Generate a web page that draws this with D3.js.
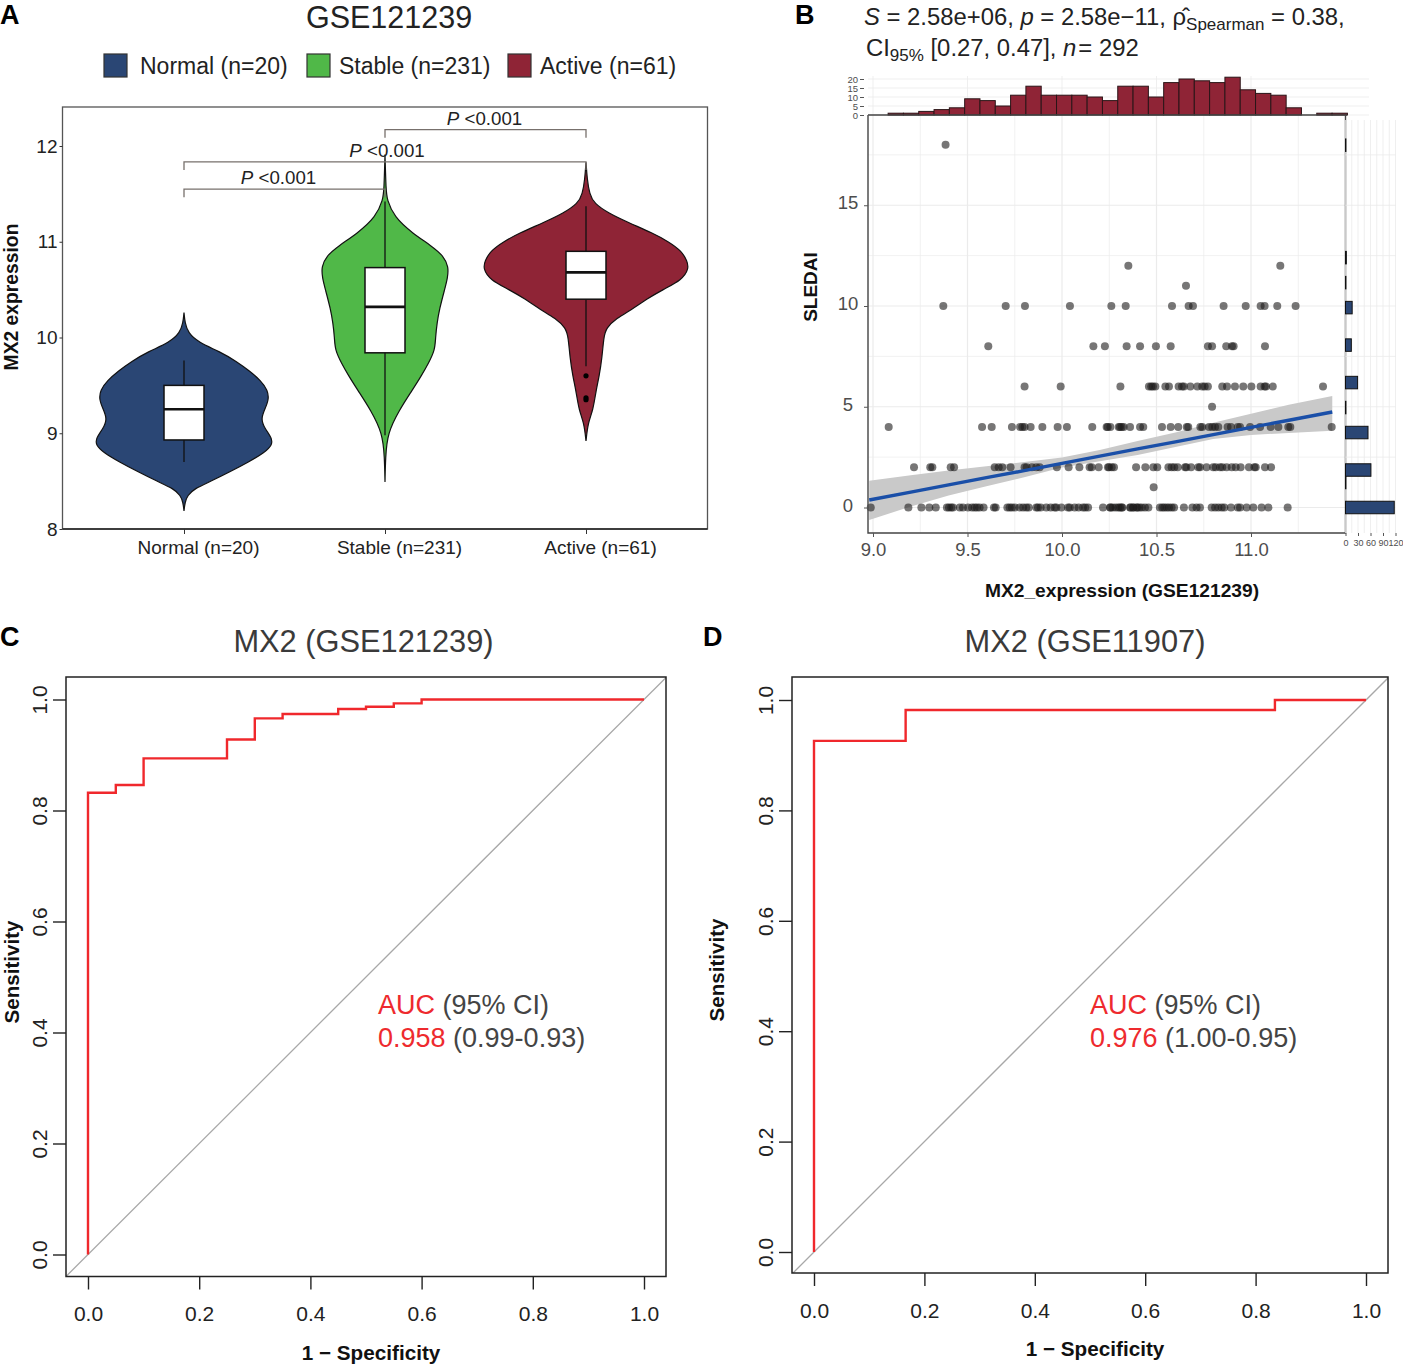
<!DOCTYPE html>
<html>
<head>
<meta charset="utf-8">
<title>MX2 expression</title>
<style>
body { margin: 0; background: #fff; }
svg { display: block; }
text { font-family: "Liberation Sans", Arial, sans-serif; }
.domain { display: none; }
</style>
</head>
<body>
<svg id="fig" width="1403" height="1365"></svg>
<script src="https://cdnjs.cloudflare.com/ajax/libs/d3/7.8.5/d3.min.js"></script>
<script>
// panel A
var groups = ["Normal", "Stable", "Active"];
var groupLabels = ["Normal (n=20)", "Stable (n=231)", "Active (n=61)"];
var groupColors = ["#2a4674", "#50b848", "#8f2436"];

var normalValues = [10.26,10.15,10.05,9.95,9.85,9.75,9.65,9.55,9.45,9.35,9.25,9.15,9.05,8.95,8.88,8.8,8.7,8.6,8.5,8.42,8.35,8.28,8.19];
var normalDensity = [0,.01,.04,.14,.36,.52,.65,.76,.83,.84,.8,.76,.8,.87,.875,.8,.64,.46,.27,.1,.035,.01,0];
var stableValues = [11.91,11.54,11.44,11.26,11.09,10.95,10.85,10.74,10.62,10.5,10.3,10.15,10,9.87,9.73,9.6,9.45,9.24,9,8.75,8.49];
var stableDensity = [0,.01,.02,.09,.27,.47,.58,.63,.62,.59,.54,.515,.5,.495,.43,.36,.27,.14,.025,.005,0];
var activeValues = [11.83,11.65,11.5,11.4,11.3,11.2,11.09,11,10.9,10.8,10.72,10.6,10.5,10.4,10.29,10.2,10.1,10,9.8,9.59,9.45,9.24,9.11,8.92];
var activeDensity = [0,.012,.035,.08,.22,.42,.66,.82,.95,1,1.02,.95,.76,.6,.45,.3,.2,.175,.16,.13,.1,.07,.02,0];

var boxQ1 = [8.93, 9.84, 10.4];
var boxMedian = [9.25, 10.32, 10.68];
var boxQ3 = [9.5, 10.73, 10.9];
var whiskerLow = [8.7, 8.98, 9.7];
var whiskerHigh = [9.76, 11.42, 11.37];
var activeOutliers = [9.6, 9.37, 9.35];

var bracketFrom = ["Stable", "Normal", "Normal"];
var bracketTo = ["Active", "Active", "Stable"];
var bracketLevel = [12.17, 11.835, 11.55];

// panel B
var sledaiRows = [18, 12, 11, 10, 8, 6, 5, 4, 2, 1, 0];
var mx2Row18 = [9.384];
var mx2Row12 = [10.351, 11.155];
var mx2Row11 = [10.656];
var mx2Row10 = [9.372,9.702,9.804,10.042,10.261,10.337,10.582,10.67,10.693,10.855,10.972,11.051,11.072,11.139,11.236];
var mx2Row8 = [9.61,10.166,10.227,10.342,10.413,10.497,10.575,10.772,10.794,10.869,10.899,10.908,11.074];
var mx2Row6 = [9.802,9.993,10.309,10.46,10.472,10.481,10.494,10.547,10.566,10.617,10.635,10.645,10.679,10.716,10.742,10.755,10.772,10.848,10.873,10.915,10.959,11.002,11.051,11.072,11.079,11.115,11.381];
var mx2Row5 = [10.794];
var mx2Row4 = [9.083,9.577,9.628,9.735,9.778,9.79,9.802,9.834,9.896,9.977,10.026,10.16,10.236,10.242,10.256,10.3,10.307,10.316,10.326,10.36,10.413,10.43,10.529,10.575,10.615,10.66,10.668,10.732,10.742,10.778,10.795,10.81,10.827,10.876,10.894,10.93,10.942,10.995,11.048,11.104,11.145,11.197,11.208,11.427];
var mx2Row2 = [9.217,9.303,9.314,9.411,9.429,9.644,9.665,9.684,9.728,9.802,9.813,9.841,9.864,9.882,9.973,10.035,10.092,10.146,10.157,10.194,10.243,10.249,10.263,10.275,10.392,10.441,10.483,10.504,10.563,10.58,10.594,10.612,10.651,10.658,10.683,10.721,10.73,10.765,10.8,10.813,10.836,10.848,10.871,10.898,10.919,10.945,10.989,11.018,11.025,11.074,11.106];
var mx2Row1 = [10.485];
var mx2Row0 = [8.988,9.187,9.256,9.298,9.332,9.391,9.402,9.414,9.423,9.459,9.476,9.503,9.524,9.538,9.55,9.564,9.585,9.64,9.649,9.711,9.723,9.735,9.75,9.776,9.794,9.811,9.824,9.864,9.873,9.887,9.917,9.94,9.961,9.97,9.997,10.032,10.041,10.067,10.088,10.111,10.123,10.138,10.217,10.257,10.268,10.284,10.319,10.363,10.377,10.398,10.409,10.254,10.298,10.307,10.316,10.36,10.377,10.395,10.422,10.439,10.457,10.518,10.531,10.541,10.554,10.566,10.58,10.593,10.645,10.69,10.712,10.73,10.792,10.81,10.827,10.845,10.859,10.894,10.93,10.942,10.977,11.012,11.056,11.092,11.194];
var rowValues = [mx2Row18, mx2Row12, mx2Row11, mx2Row10, mx2Row8, mx2Row6, mx2Row5, mx2Row4, mx2Row2, mx2Row1, mx2Row0];

var fitX = [8.98,9.2,9.4,9.6,9.8,10,10.2,10.4,10.6,10.8,11,11.2,11.43];
var fitY = [.37,.76,1.12,1.48,1.83,2.19,2.55,2.91,3.26,3.62,3.98,4.33,4.74];
var fitUpper = [1.33,1.6,1.84,2.05,2.26,2.48,2.85,3.3,3.72,4.2,4.65,5.1,5.53];
var fitLower = [-.62,.05,.6,1.05,1.5,1.98,2.3,2.6,3.0,3.4,3.6,3.7,3.81];

var topHistCounts = [1,1,2,3,4,9,8,5,11,16,11,11,11,10,8,16,16,10,18,20,19,18,21,14,12,11,4,0,1,1];
var sideHistBins = [0,1.24,1.86,3.72,4.96,6.2,8.06,9.92,11.16,12.4,17.98];
var sideHistCounts = [117,1,61,54,1,29,14,16,1,2,1];

// panels C and D
var rocFprC = [0,0,.05,.1,.25,.3,.35,.45,.5,.55,.6,1];
var rocTprC = [0,.832,.846,.894,.928,.966,.974,.983,.987,.993,1,1];
var rocFprD = [0,0,.166,.835,1];
var rocTprD = [0,.926,.982,1,1];
var rocTicks = [0,.2,.4,.6,.8,1];

var svg = d3.select("#fig");
var sans = "Liberation Sans";

function label(parent, x, y, str, size, opts) {
  opts = opts || {};
  var t = parent.append("text")
    .attr("transform", "translate(" + x + "," + y + ")" + (opts.rotate ? " rotate(" + opts.rotate + ")" : ""))
    .attr("font-size", size)
    .attr("font-weight", opts.bold ? "bold" : "normal")
    .attr("text-anchor", opts.anchor || "start")
    .attr("fill", opts.fill || "#222")
    .text(str);
  return t;
}

// panel letters
label(svg, 0, 24, "A", 27, {bold: true, fill: "#000"});
label(svg, 795, 24, "B", 27, {bold: true, fill: "#000"});
label(svg, 0, 646, "C", 27, {bold: true, fill: "#000"});
label(svg, 703, 646, "D", 27, {bold: true, fill: "#000"});

/* ---------- A: violins ---------- */
var a = svg.append("g");
var ay = d3.scaleLinear().domain([8, 12]).range([529, 146]);
var ax = d3.scalePoint().domain(groups).range([184, 586]);
var aw = d3.scaleLinear().domain([0, 1]).range([0, 101]);

label(a, 389, 28, "GSE121239", 30.5, {anchor: "middle", fill: "#222"});

var legendX = d3.scaleOrdinal().domain(groups).range([104, 307, 508]);
groups.forEach(function(g, i) {
  a.append("rect").attr("x", legendX(g)).attr("y", 54).attr("width", 23).attr("height", 23)
    .attr("fill", groupColors[i]).attr("stroke", "#333").attr("stroke-width", 1.2);
  label(a, legendX(g) + (i == 0 ? 36 : 32), 74, groupLabels[i], 23, {fill: "#222"});
});

a.append("rect").attr("x", 62.5).attr("y", 107).attr("width", 645).attr("height", 422)
  .attr("fill", "none").attr("stroke", "#555").attr("stroke-width", 1.3);
a.append("line").attr("x1", 62.5).attr("x2", 707.5).attr("y1", 529).attr("y2", 529)
  .attr("stroke", "#222").attr("stroke-width", 1.6);

var ayAxis = a.append("g").attr("transform", "translate(62.5,0)")
  .call(d3.axisLeft(ay).tickValues([8, 9, 10, 11, 12]).tickSize(3).tickPadding(2).tickFormat(d3.format("d")));
ayAxis.selectAll("text").attr("font-size", 19).attr("font-family", sans).attr("fill", "#222");
ayAxis.selectAll("line").attr("stroke", "#333");

var axAxis = a.append("g").attr("transform", "translate(0,529)")
  .call(d3.axisBottom(ax).tickSize(5).tickPadding(7).tickFormat(function(d, i) { return groupLabels[i]; }));
axAxis.selectAll("text").attr("font-size", 19).attr("font-family", sans).attr("fill", "#222").attr("dx", 14);
axAxis.selectAll("line").attr("stroke", "#333");

label(a, 18, 297, "MX2 expression", 19.3, {bold: true, rotate: -90, anchor: "middle", fill: "#111"});

var violinData = [
  {values: normalValues, density: normalDensity},
  {values: stableValues, density: stableDensity},
  {values: activeValues, density: activeDensity}
];
violinData.forEach(function(v, i) {
  var c = ax(groups[i]);
  var area = d3.area()
    .y(function(d, k) { return ay(d); })
    .x0(function(d, k) { return c - aw(v.density[k]); })
    .x1(function(d, k) { return c + aw(v.density[k]); })
    .curve(d3.curveBasis);
  a.append("path").attr("d", area(v.values))
    .attr("fill", groupColors[i]).attr("stroke", "#111").attr("stroke-width", 1.2);
  a.append("line").attr("x1", c).attr("x2", c).attr("y1", ay(whiskerLow[i])).attr("y2", ay(whiskerHigh[i]))
    .attr("stroke", "#111").attr("stroke-width", 1.3);
  a.append("rect").attr("x", c - 20).attr("width", 40)
    .attr("y", ay(boxQ3[i])).attr("height", ay(boxQ1[i]) - ay(boxQ3[i]))
    .attr("fill", "#fff").attr("stroke", "#111").attr("stroke-width", 1.5);
  a.append("line").attr("x1", c - 20).attr("x2", c + 20).attr("y1", ay(boxMedian[i])).attr("y2", ay(boxMedian[i]))
    .attr("stroke", "#111").attr("stroke-width", 2.6);
});
a.selectAll("circle.out").data(activeOutliers).enter().append("circle")
  .attr("cx", ax("Active")).attr("cy", function(d) { return ay(d); }).attr("r", 2.6).attr("fill", "#000");

bracketLevel.forEach(function(lv, i) {
  var x1 = ax(bracketFrom[i]), x2 = ax(bracketTo[i]), y0 = ay(lv), yt = ay(lv - .085);
  a.append("path").attr("d", "M" + x1 + "," + yt + "V" + y0 + "H" + x2 + "V" + yt)
    .attr("fill", "none").attr("stroke", "#77706c").attr("stroke-width", 1.3);
  var t = label(a, (x1 + x2) / 2 + (i == 1 ? 2 : (i == 0 ? -1 : -6)), y0 - 5, "", 18.7, {anchor: "middle", fill: "#222"});
  t.append("tspan").attr("font-style", "italic").text("P");
  t.append("tspan").text(" <0.001");
});

/* ---------- B: scatter with marginal histograms ---------- */
var b = svg.append("g");
var bx = d3.scaleLinear().domain([9, 11]).range([873, 1251]);
var by = d3.scaleLinear().domain([0, 18]).range([507.5, 144.8]);
var frameL = 868, frameR = 1345.5, frameT = 115, frameB = 533;

// subtitle
var st1 = label(b, 864, 25, "", 23.85, {fill: "#222"});
st1.append("tspan").attr("font-style", "italic").text("S");
st1.append("tspan").text(" = 2.58e+06, ");
st1.append("tspan").attr("font-style", "italic").text("p");
st1.append("tspan").text(" = 2.58e\u221211, \u03c1\u0302");
st1.append("tspan").attr("font-size", 17).attr("dy", 5).text("Spearman");
st1.append("tspan").attr("dy", -5).text(" = 0.38,");
var st2 = label(b, 866, 56, "", 23.85, {fill: "#222"});
st2.append("tspan").text("CI");
st2.append("tspan").attr("font-size", 17).attr("dy", 5).text("95%");
st2.append("tspan").attr("dy", -5).text(" [0.27, 0.47], ");
st2.append("tspan").attr("font-style", "italic").text("n");
st2.append("tspan").attr("dx", 2).text("= 292");

// grid of the scatter
var bxMajor = [9, 9.5, 10, 10.5, 11], bxMinor = [9.25, 9.75, 10.25, 10.75, 11.25];
var byMajor = [0, 5, 10, 15], byMinor = [2.5, 7.5, 12.5, 17.5];
var grid = b.append("g").attr("stroke", "#ebebeb");
bxMajor.concat(bxMinor).forEach(function(d) {
  grid.append("line").attr("x1", bx(d)).attr("x2", bx(d)).attr("y1", frameT).attr("y2", frameB)
    .attr("stroke-width", bxMajor.indexOf(d) >= 0 ? 1.2 : .7);
});
byMajor.concat(byMinor).forEach(function(d) {
  grid.append("line").attr("x1", frameL).attr("x2", frameR).attr("y1", by(d)).attr("y2", by(d))
    .attr("stroke-width", byMajor.indexOf(d) >= 0 ? 1.2 : .7);
});

// band and points
var band = d3.area()
  .x(function(d, i) { return bx(fitX[i]); })
  .y0(function(d, i) { return by(fitLower[i]); })
  .y1(function(d, i) { return by(fitUpper[i]); });
b.append("path").attr("d", band(fitX)).attr("fill", "#c9c9c9");

sledaiRows.forEach(function(s, r) {
  b.append("g").selectAll("circle").data(rowValues[r]).enter().append("circle")
    .attr("cx", function(d) { return bx(d); }).attr("cy", by(s)).attr("r", 4)
    .attr("fill", "#1d1a1a").attr("fill-opacity", .6);
});

var fitLine = d3.line().x(function(d, i) { return bx(fitX[i]); }).y(function(d, i) { return by(fitY[i]); });
b.append("path").attr("d", fitLine(fitX)).attr("fill", "none").attr("stroke", "#1a4fa8").attr("stroke-width", 3.4);

b.append("path").attr("d", "M" + frameL + "," + frameT + "V" + frameB + "H" + frameR + "V" + frameT)
  .attr("fill", "none").attr("stroke", "#444").attr("stroke-width", 1.4);

var bxAxis = b.append("g").attr("transform", "translate(0," + frameB + ")")
  .call(d3.axisBottom(bx).tickValues(bxMajor).tickSize(4).tickPadding(6).tickFormat(d3.format(".1f")));
bxAxis.selectAll("text").attr("font-size", 18.5).attr("font-family", sans).attr("fill", "#4d4d4d");
bxAxis.selectAll("line").attr("stroke", "#555");
var byAxis = b.append("g").attr("transform", "translate(" + frameL + ",0)")
  .call(d3.axisLeft(by).tickValues(byMajor).tickSize(4).tickFormat(d3.format("d")));
byAxis.selectAll("text").attr("font-size", 18.5).attr("font-family", sans).attr("fill", "#4d4d4d")
  .attr("text-anchor", "middle").attr("x", -20).attr("dy", ".2em");
byAxis.selectAll("line").attr("stroke", "#555");

label(b, 817, 287, "SLEDAI", 19, {bold: true, rotate: -90, anchor: "middle", fill: "#111"});
label(b, 1122, 597, "MX2_expression (GSE121239)", 19.2, {bold: true, anchor: "middle", fill: "#111"});

// top histogram
var tx = d3.scaleBand().domain(d3.range(topHistCounts.length)).range([bx(9.08), bx(11.51)]);
var ty = d3.scaleLinear().domain([0, 20]).range([115, 79]);
var topGrid = b.append("g").attr("stroke", "#ebebeb").attr("stroke-width", .8);
[0, 5, 10, 15, 20].forEach(function(d) {
  topGrid.append("line").attr("x1", frameL).attr("x2", 1369).attr("y1", ty(d)).attr("y2", ty(d));
});
bxMajor.forEach(function(d) {
  topGrid.append("line").attr("x1", bx(d)).attr("x2", bx(d)).attr("y1", 76).attr("y2", 115);
});
b.append("g").selectAll("rect").data(topHistCounts).enter().append("rect")
  .attr("x", function(d, i) { return tx(i); }).attr("width", tx.bandwidth())
  .attr("y", function(d) { return ty(d); }).attr("height", function(d) { return ty(0) - ty(d); })
  .attr("fill", "#8f2436").attr("stroke", "#2a1518").attr("stroke-width", 1);
var tyAxis = b.append("g").attr("transform", "translate(864,0)")
  .call(d3.axisLeft(ty).tickValues([0, 5, 10, 15, 20]).tickSize(4).tickPadding(2));
tyAxis.selectAll("text").attr("font-size", 9.5).attr("font-family", sans).attr("fill", "#4d4d4d");
tyAxis.selectAll("line").attr("stroke", "#555");
b.append("line").attr("x1", frameL).attr("x2", 1347).attr("y1", 115).attr("y2", 115)
  .attr("stroke", "#444").attr("stroke-width", 1.4);

// side histogram
var sx = d3.scaleLinear().domain([0, 120]).range([1345.5, 1395.5]);
var sideGrid = b.append("g").attr("stroke", "#ebebeb").attr("stroke-width", .8);
[0, 15, 30, 45, 60, 75, 90, 105, 120].forEach(function(d) {
  sideGrid.append("line").attr("x1", sx(d)).attr("x2", sx(d)).attr("y1", 120).attr("y2", 533);
});
byMajor.concat(byMinor).forEach(function(d) {
  sideGrid.append("line").attr("x1", 1345.5).attr("x2", 1396).attr("y1", by(d)).attr("y2", by(d));
});
var binH = by(0) - by(.62);
b.append("g").selectAll("rect").data(sideHistCounts).enter().append("rect")
  .attr("x", sx(0)).attr("width", function(d) { return sx(d) - sx(0); })
  .attr("y", function(d, i) { return by(sideHistBins[i]) - binH / 2; }).attr("height", binH)
  .attr("fill", "#2a4674").attr("stroke", "#111").attr("stroke-width", 1);
var sAxis = b.append("g").attr("transform", "translate(0,533)")
  .call(d3.axisBottom(sx).tickValues([0, 30, 60, 90, 120]).tickSize(3).tickPadding(4));
sAxis.selectAll("text").attr("font-size", 9).attr("font-family", sans).attr("fill", "#4d4d4d");
sAxis.selectAll("line").attr("stroke", "#555");

/* ---------- C, D: ROC curves ---------- */
function rocPanel(cfg) {
  var g = svg.append("g");
  var x = d3.scaleLinear().domain([0, 1]).range([cfg.x0, cfg.x1]);
  var y = d3.scaleLinear().domain([0, 1]).range([cfg.y0, cfg.y1]);
  var clipId = "clip" + cfg.id;
  g.append("clipPath").attr("id", clipId).append("rect")
    .attr("x", cfg.left).attr("y", cfg.top).attr("width", cfg.right - cfg.left).attr("height", cfg.bottom - cfg.top);

  label(g, cfg.titleX, 652, cfg.title, 30.8, {anchor: "middle", fill: "#3a3a3a"});

  // reference diagonal
  g.append("line").attr("clip-path", "url(#" + clipId + ")")
    .attr("x1", x(-.1)).attr("y1", y(-.1)).attr("x2", x(1.1)).attr("y2", y(1.1))
    .attr("stroke", "#a8a8a8").attr("stroke-width", 1.3);

  var line = d3.line()
    .x(function(d, i) { return x(cfg.fpr[i]); })
    .y(function(d, i) { return y(cfg.tpr[i]); })
    .curve(d3.curveStepAfter);
  g.append("path").attr("d", line(cfg.fpr)).attr("fill", "none")
    .attr("stroke", "#f0282c").attr("stroke-width", 2.4);

  g.append("rect").attr("x", cfg.left).attr("y", cfg.top)
    .attr("width", cfg.right - cfg.left).attr("height", cfg.bottom - cfg.top)
    .attr("fill", "none").attr("stroke", "#222").attr("stroke-width", 1.5);

  var xa = g.append("g").attr("transform", "translate(0," + cfg.bottom + ")")
    .call(d3.axisBottom(x).tickValues(rocTicks).tickSize(13).tickPadding(17).tickFormat(d3.format(".1f")));
  xa.selectAll("text").attr("font-size", 21).attr("font-family", sans).attr("fill", "#222");
  xa.selectAll("line").attr("stroke", "#222").attr("stroke-width", 1.4);

  var ya = g.append("g").attr("transform", "translate(" + cfg.left + ",0)")
    .call(d3.axisLeft(y).tickValues(rocTicks).tickSize(13).tickFormat(d3.format(".1f")));
  ya.selectAll("text").attr("font-size", 21).attr("font-family", sans).attr("fill", "#222")
    .attr("text-anchor", "middle").attr("dy", null).attr("x", null)
    .attr("transform", "translate(-19,0) rotate(-90) translate(0,0)");
  ya.selectAll("line").attr("stroke", "#222").attr("stroke-width", 1.4);

  label(g, cfg.xLabelX, cfg.xLabelY, "1 \u2212 Specificity", 20.7, {bold: true, anchor: "middle", fill: "#111"});
  label(g, cfg.yLabelX, cfg.yLabelY, "Sensitivity", 20.6, {bold: true, rotate: -90, anchor: "middle", fill: "#111"});

  var l1 = label(g, cfg.aucX, 1014, "", 27, {fill: "#444"});
  l1.append("tspan").attr("fill", "#ee2a2e").text("AUC");
  l1.append("tspan").text(" (95% CI)");
  var l2 = label(g, cfg.aucX, 1047, "", 27, {fill: "#444"});
  l2.append("tspan").attr("fill", "#ee2a2e").text(cfg.auc);
  l2.append("tspan").text(" " + cfg.ci);
}

rocPanel({
  id: "C", title: "MX2 (GSE121239)", titleX: 363.5,
  left: 66, right: 666, top: 677, bottom: 1276.5,
  x0: 88, x1: 644, y0: 1254.5, y1: 699.5,
  fpr: rocFprC, tpr: rocTprC,
  xLabelX: 371, xLabelY: 1360, yLabelX: 19, yLabelY: 972,
  aucX: 378, auc: "0.958", ci: "(0.99-0.93)"
});
rocPanel({
  id: "D", title: "MX2 (GSE11907)", titleX: 1085,
  left: 792, right: 1388, top: 677, bottom: 1273,
  x0: 814, x1: 1366, y0: 1252, y1: 700,
  fpr: rocFprD, tpr: rocTprD,
  xLabelX: 1095, xLabelY: 1356, yLabelX: 724, yLabelY: 970,
  aucX: 1090, auc: "0.976", ci: "(1.00-0.95)"
});
</script>
</body>
</html>
